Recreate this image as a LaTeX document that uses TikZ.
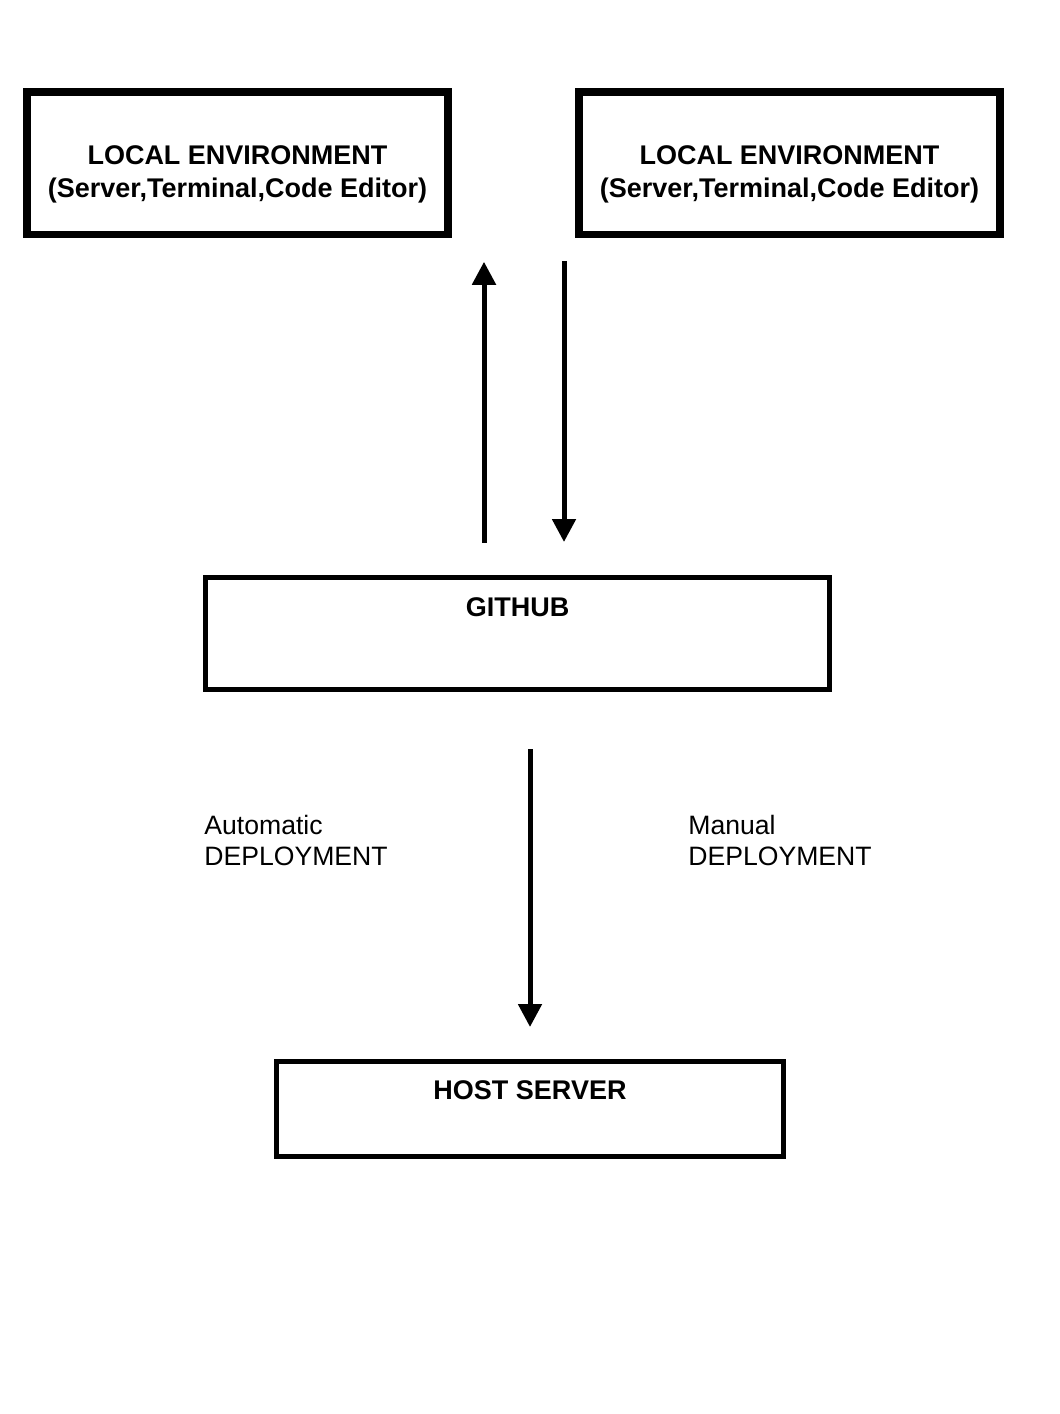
\documentclass[tikz,border=0pt]{standalone}
\usepackage{fontspec}
\setmainfont{Liberation Sans}
\usetikzlibrary{arrows.meta}

\begin{document}
\begin{tikzpicture}[x=0.5pt, y=-0.5pt,
  localbox/.style={draw, line width=3.75pt, outer sep=0pt, inner sep=0pt, minimum width=210.5pt, minimum height=71.25pt},
  plainbox/.style={draw, line width=2.4pt, outer sep=0pt, inner sep=0pt},
  boxtext/.style={font=\bfseries\fontsize{13.5}{16.5}\selectfont, align=center, inner sep=0pt},
  deploytext/.style={font=\fontsize{13.3}{15.5}\selectfont, align=left, inner sep=0pt, anchor=north west},
  flow/.style={line width=2.5pt, -{Triangle[length=11.5pt, width=11.5pt]}}]
\useasboundingbox (0, 0) rectangle (1060, 1414);
\node[localbox, label = {[boxtext, yshift=-5.5pt]center:LOCAL ENVIRONMENT\\(Server,Terminal,Code Editor)}] (local1) at (237.5, 163) {};
\node[localbox, label = {[boxtext, yshift=-5.5pt]center:LOCAL ENVIRONMENT\\(Server,Terminal,Code Editor)}] (local2) at (789.5, 163) {};
\node[plainbox, minimum width=312pt, minimum height=56pt, label = {[boxtext, yshift=13pt]center:GITHUB}] (github) at (517.5, 633.5) {};
\node[plainbox, minimum width=253.5pt, minimum height=47.5pt, label = {[boxtext, yshift=9.25pt]center:HOST SERVER}] (host) at (530, 1109) {};
\node[deploytext] (auto) at (204, 815) {Automatic\\DEPLOYMENT};
\node[deploytext] (manual) at (688, 815) {Manual\\DEPLOYMENT};
\draw[flow] ([shift={(-33.5, -35)}]github.north) -- ([shift={(36, 27.5)}]local1.south east);
\draw[flow] ([shift={(-15, 26.5)}]local2.south west) -- ([shift={(46.5, -35.5)}]github.north);
\draw[flow] ([shift={(12.5, 59.5)}]github.south) -- ([shift={(0, -34.5)}]host.north);
\end{tikzpicture}
\end{document}
